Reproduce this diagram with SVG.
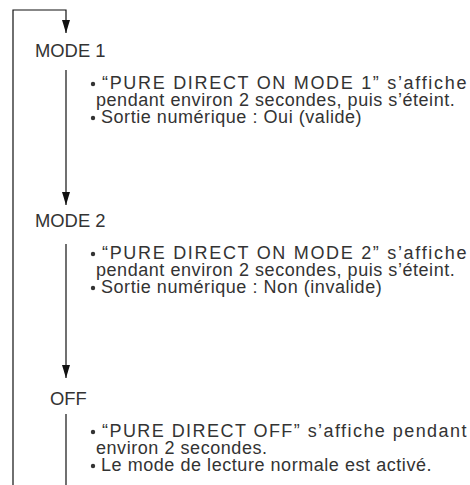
<svg xmlns="http://www.w3.org/2000/svg" width="470" height="485" viewBox="0 0 470 485">
<defs>
<style>
.lbl{font-family:"Liberation Sans",Arial,sans-serif;font-size:18.4px;fill:#333}
.txt{font-family:"Liberation Sans",Arial,sans-serif;font-size:18px;letter-spacing:0.55px;fill:#333}
.dot{fill:#333}
.ln{stroke:#111;stroke-width:1.2;fill:none}
</style>
<marker id="ah" viewBox="0 0 13 8" refX="13" refY="4" markerWidth="13" markerHeight="8" markerUnits="userSpaceOnUse" orient="auto">
<path d="M0,0 L13,4 L0,8 Z" fill="#111"/>
</marker>
</defs>
<g id="connectors">
<path class="ln" d="M13,485 L13,10 L66,10 L66,33" marker-end="url(#ah)"/>
<path class="ln" d="M66,70 L66,205" marker-end="url(#ah)"/>
<path class="ln" d="M66,244 L66,378" marker-end="url(#ah)"/>
<path class="ln" d="M66,414 L66,485"/>
</g>
<g id="mode1">
<text class="lbl" x="35" y="57">MODE 1</text>
<circle class="dot" cx="93" cy="84" r="2.2"/>
<text class="txt" x="102" y="89" textLength="365" lengthAdjust="spacing">“PURE DIRECT ON MODE 1” s’affiche</text>
<text class="txt" x="96" y="106">pendant environ 2 secondes, puis s’éteint.</text>
<circle class="dot" cx="93" cy="118" r="2.2"/>
<text class="txt" x="101" y="123">Sortie numérique : Oui (valide)</text>
</g>
<g id="mode2">
<text class="lbl" x="35" y="227">MODE 2</text>
<circle class="dot" cx="93" cy="254" r="2.2"/>
<text class="txt" x="102" y="259" textLength="365" lengthAdjust="spacing">“PURE DIRECT ON MODE 2” s’affiche</text>
<text class="txt" x="96" y="276">pendant environ 2 secondes, puis s’éteint.</text>
<circle class="dot" cx="93" cy="288" r="2.2"/>
<text class="txt" x="101" y="293">Sortie numérique : Non (invalide)</text>
</g>
<g id="off">
<text class="lbl" x="50" y="405">OFF</text>
<circle class="dot" cx="93" cy="432" r="2.2"/>
<text class="txt" x="102" y="437" textLength="365" lengthAdjust="spacing">“PURE DIRECT OFF” s’affiche pendant</text>
<text class="txt" x="96" y="454">environ 2 secondes.</text>
<circle class="dot" cx="93" cy="466" r="2.2"/>
<text class="txt" x="101" y="471">Le mode de lecture normale est activé.</text>
</g>
</svg>
